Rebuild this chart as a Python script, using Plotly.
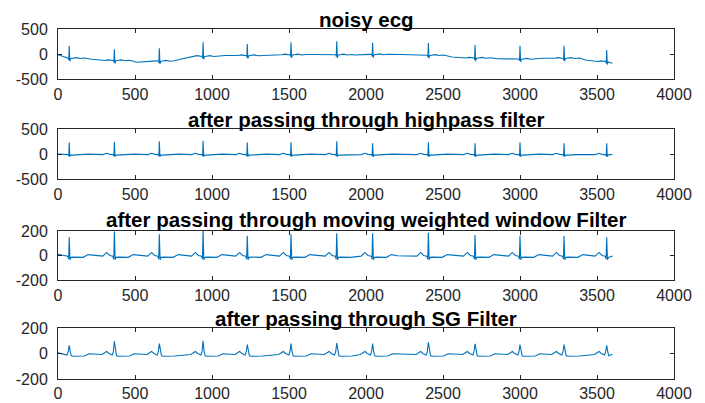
import plotly.graph_objects as go

# ---------------- data ----------------
titles = ["noisy ecg",
          "after passing through highpass filter",
          "after passing through moving weighted window Filter",
          "after passing through SG Filter"]

x_ticks = [0, 500, 1000, 1500, 2000, 2500, 3000, 3500, 4000]
y_ticks_big = [-500, 0, 500]
y_ticks_small = [-200, 0, 200]

signal_start = 0
signal_end = 3600

# R-peak sample positions (same in all four panels)
beat_x = [73, 366, 658, 942, 1229, 1513, 1810, 2043, 2405, 2708, 3000, 3286, 3563]

# panel 1: noisy ecg
noisy_peak = [160, 93, 113, 233, 200, 233, 253, 227, 220, 180, 167, 167, 80]
noisy_base = [-85, -130, -140, -45, -30, -15, -15, -10, -25, -80, -100, -85, -150]
noisy_gap_base = [-105, -165, -100, -30, -25, -10, -20, -10, -60, -95, -85, -120]
noisy_start, noisy_end = -15, -185
noisy_shape_dx = [-60, -40, -20, -6, -3, 0, 4, 8, 20, 45, 70, 100]
noisy_shape_dy = [0, 12, 3, 0, -40, None, -60, -10, 0, 12, -4, 6]

# panel 2: highpass
hp_peak = [230, 245, 255, 265, 228, 235, 255, 213, 233, 213, 233, 213, 213]
hp_base = -12
hp_shape_dx = [-75, -50, -30, -8, -3, 0, 4, 8, 20, 80, 125]
hp_shape_dy = [0, 25, 5, 0, -30, None, -45, -10, -10, 0, 10]

# panel 3: moving weighted window
mw_peak = [150, 195, 173, 205, 162, 173, 181, 181, 186, 167, 162, 159, 149]
mw_base = -5
mw_shape_dx = [-75, -50, -30, -10, -4, 0, 5, 12, 30, 90, 122, 160]
mw_shape_dy = [0, 30, 5, 0, -25, None, -30, -10, -8, -10, 12, 3]

# panel 4: SG filter
sg_peak = [64, 96, 77, 100, 69, 77, 82, 77, 88, 75, 69, 69, 64]
sg_base = -8
sg_shape_dx = [-80, -50, -35, -14, -7, 0, 7, 14, 25, 100, 128, 170]
sg_shape_dy = [0, 24, 8, -4, 20, None, 20, -10, -14, -12, 6, 6]


def build(peaks, base, dx, dy, start_y, end_y, gap_base=None):
    bases = base if isinstance(base, list) else [base] * len(peaks)
    xs, ys = [signal_start], [start_y]
    n = len(beat_x)
    for i, bx in enumerate(beat_x):
        prev_gap = bx - (beat_x[i - 1] if i > 0 else signal_start)
        next_gap = (beat_x[i + 1] if i < n - 1 else signal_end) - bx
        for ox, oy in zip(dx, dy):
            if ox < 0 and ox <= -0.45 * prev_gap:
                continue
            if ox > 0 and ox >= 0.45 * next_gap:
                continue
            xs.append(bx + ox)
            ys.append(peaks[i] if oy is None else bases[i] + oy)
        if gap_base is not None and i < n - 1:
            xs.append((bx + beat_x[i + 1]) / 2)
            ys.append(gap_base[i])
    xs.append(signal_end)
    ys.append(end_y)
    return xs, ys


series = [
    build(noisy_peak, noisy_base, noisy_shape_dx, noisy_shape_dy, noisy_start, noisy_end, noisy_gap_base),
    build(hp_peak, hp_base, hp_shape_dx, hp_shape_dy, 0, -5),
    build(mw_peak, mw_base, mw_shape_dx, mw_shape_dy, 10, -5),
    build(sg_peak, sg_base, sg_shape_dx, sg_shape_dy, 5, -5),
]
y_ranges = [[-500, 500], [-500, 500], [-200, 200], [-200, 200]]
y_tick_sets = [y_ticks_big, y_ticks_big, y_ticks_small, y_ticks_small]

# ---------------- layout ----------------
W, H = 705, 403
x_dom = [58 / W, 674 / W]
panels_px = [(29, 79), (129, 179), (231, 280), (328, 379)]
title_px = [19, 119, 219.5, 318]
x_standoff = [1, 1, 1, 0]

fig = go.Figure()
axis_col = "#262626"
font_family = "Liberation Sans, Arial, sans-serif"

for k in range(4):
    xa = "x" if k == 0 else f"x{k+1}"
    ya = "y" if k == 0 else f"y{k+1}"
    xs, ys = series[k]
    fig.add_trace(go.Scatter(x=xs, y=ys, mode="lines",
                             line=dict(color="#0072BD", width=1.1),
                             xaxis=xa, yaxis=ya, showlegend=False,
                             hoverinfo="skip"))
    top, bot = panels_px[k]
    common = dict(showline=True, linecolor=axis_col, linewidth=1, mirror="ticks",
                  ticks="inside", ticklen=4, tickcolor=axis_col, tickwidth=1,
                  showgrid=False, zeroline=False, automargin=False,
                  tickfont=dict(family=font_family, size=16, color=axis_col))
    fig.layout[f"xaxis{'' if k == 0 else k+1}"] = dict(
        domain=x_dom, anchor=ya, range=[0, 4000], tickmode="array",
        tickvals=x_ticks, ticktext=[str(v) for v in x_ticks],
        ticklabelstandoff=x_standoff[k], **common)
    fig.layout[f"yaxis{'' if k == 0 else k+1}"] = dict(
        domain=[1 - bot / H, 1 - top / H], anchor=xa, range=y_ranges[k],
        tickmode="array", tickvals=y_tick_sets[k],
        ticktext=[str(v) for v in y_tick_sets[k]],
        ticklabelstandoff=6, **common)
    fig.add_annotation(text=f"<b>{titles[k]}</b>", xref="paper", yref="paper",
                       x=(x_dom[0] + x_dom[1]) / 2, y=1 - title_px[k] / H,
                       xanchor="center", yanchor="middle", showarrow=False,
                       font=dict(family=font_family, size=20.5, color="#000000"))

fig.update_layout(width=W, height=H, margin=dict(l=0, r=0, t=0, b=0),
                  paper_bgcolor="white", plot_bgcolor="white")

fig.write_html("out.html")
